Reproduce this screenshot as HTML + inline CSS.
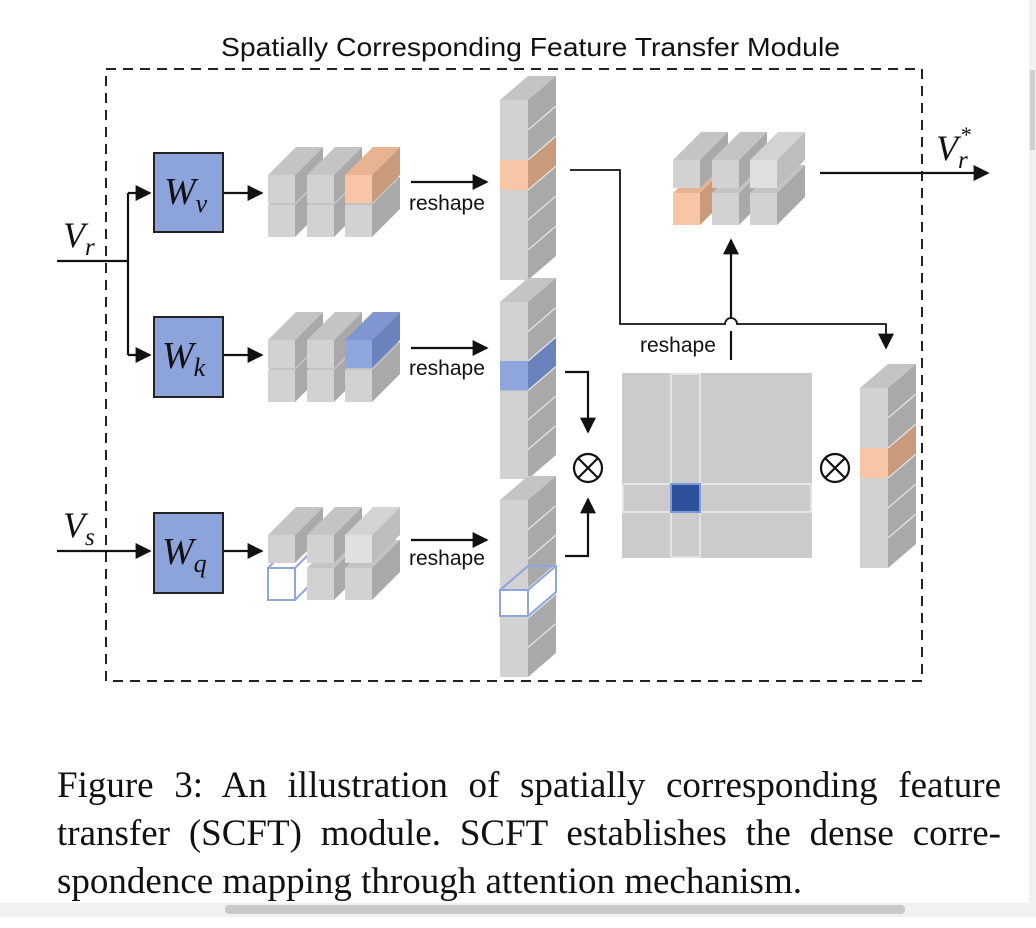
<!DOCTYPE html>
<html><head><meta charset="utf-8"><style>
html,body{margin:0;padding:0;background:#fff;width:1036px;height:928px;overflow:hidden}
svg{position:absolute;left:0;top:0}
.cap{position:absolute;left:57px;width:944px;font-family:"Liberation Serif",serif;font-size:37px;line-height:48px;color:#111;white-space:nowrap;text-align:justify;text-align-last:justify}
</style></head><body>
<svg id="s" width="1036" height="928" xmlns="http://www.w3.org/2000/svg">
<defs>
<marker id="b" viewBox="0 0 10 10" markerWidth="18" markerHeight="16" refX="9" refY="5" orient="auto" markerUnits="userSpaceOnUse"><path d="M0,0 L10,5 L0,10z" fill="#111"/></marker></defs>
<text x="221" y="56" textLength="619" lengthAdjust="spacingAndGlyphs" font-family="Liberation Sans,sans-serif" font-size="26" fill="#111">Spatially Corresponding Feature Transfer Module</text>
<rect x="106" y="69" width="816" height="612" fill="none" stroke="#222" stroke-width="2" stroke-dasharray="10,7"/>
<g id="g"></g>
<g fill="none" stroke="#111" stroke-width="2.2">
<path d="M57,261 H128 M128,193 V355"/>
<path d="M128,193 H150" marker-end="url(#b)"/><path d="M128,355 H150" marker-end="url(#b)"/>
<path d="M57,551 H150" marker-end="url(#b)"/>
<path d="M224,193 H262" marker-end="url(#b)"/><path d="M224,355 H262" marker-end="url(#b)"/><path d="M224,551 H262" marker-end="url(#b)"/>
<path d="M411,182 H487" marker-end="url(#b)"/><path d="M411,348 H487" marker-end="url(#b)"/><path d="M411,540 H487" marker-end="url(#b)"/>
<path d="M570,170 H620 V324 H725 A6,6 0 0 1 737,324 H886 V348" stroke-width="1.8" marker-end="url(#b)"/>
<path d="M731,360 V331 M731,318 V240" marker-end="url(#b)"/>
<path d="M565,372 H588 V432" marker-end="url(#b)"/>
<path d="M565,556 H588 V499" marker-end="url(#b)"/>
<path d="M820,173 H988" marker-end="url(#b)"/>
<circle cx="588" cy="468" r="14"/><path d="M578,458 L598,478 M598,458 L578,478"/>
<circle cx="835" cy="468" r="14"/><path d="M825,458 L845,478 M845,458 L825,478"/>
</g>
<g font-family="Liberation Sans,sans-serif" font-size="21" fill="#111">
<text x="409" y="210">reshape</text><text x="409" y="375">reshape</text><text x="409" y="565">reshape</text><text x="640" y="352">reshape</text>
</g>
<g font-family="Liberation Serif,serif" font-style="italic" fill="#111">
<text x="63" y="247" font-size="36">V<tspan font-size="25" dy="8">r</tspan></text>
<text x="63" y="537" font-size="36">V<tspan font-size="25" dy="8">s</tspan></text>
<text x="936" y="160" font-size="36">V<tspan font-size="25" dy="8">r</tspan><tspan font-size="22" dy="-26" dx="-8">*</tspan></text>
<text x="164" y="204" font-size="38">W<tspan font-size="26" dy="8">v</tspan></text>
<text x="162" y="368" font-size="38">W<tspan font-size="26" dy="8">k</tspan></text>
<text x="162" y="564" font-size="38">W<tspan font-size="26" dy="8">q</tspan></text>
</g>
</svg>
<div class="cap" style="top:762px">Figure 3: An illustration of spatially corresponding feature</div>
<div class="cap" style="top:810px">transfer (SCFT) module. SCFT establishes the dense corre-</div>
<div class="cap" style="top:858px;text-align:left;text-align-last:left">spondence mapping through attention mechanism.</div>
<div style="position:absolute;left:0;top:903px;width:1036px;height:14px;background:#f1f1f1"></div>
<div style="position:absolute;left:225px;top:905px;width:680px;height:9px;background:#c9c9c9;border-radius:4px"></div>
<div style="position:absolute;left:1029px;top:0;width:7px;height:903px;background:#f1f1f1"></div>
<div style="position:absolute;left:1030px;top:70px;width:5px;height:80px;background:#d0d0d0"></div>
<script>
var g=document.getElementById('g'),h='';
var C={g:['#d2d2d2','#c4c4c4','#a9a9a9'],l:['#e0e0e0','#d3d3d3','#bdbdbd'],o:['#f6c6a6','#e7b391','#c99a7c'],b:['#8fa6dd','#7f96d0','#6c82bc']};
function bar(x,y,w,hh,dx,dy,c,sk,notop){var f=C[c];
 if(sk){h+='<rect x="'+x+'" y="'+y+'" width="'+w+'" height="'+hh+'" fill="#fff"/><polygon points="'+(x+w)+','+y+' '+(x+w+dx)+','+(y-dy)+' '+(x+w+dx)+','+(y+hh-dy)+' '+(x+w)+','+(y+hh)+'" fill="#fff"/><g fill="none" stroke="#8fa5dd" stroke-width="2"><rect x="'+x+'" y="'+y+'" width="'+w+'" height="'+hh+'"/><path d="M'+x+','+y+' L'+(x+dx)+','+(y-dy)+' L'+(x+w+dx)+','+(y-dy)+' L'+(x+w+dx)+','+(y+hh-dy)+' L'+(x+w)+','+(y+hh)+' M'+(x+w)+','+y+' L'+(x+w+dx)+','+(y-dy)+'"/></g>';return;}
 h+='<rect x="'+x+'" y="'+y+'" width="'+w+'" height="'+hh+'" fill="'+f[0]+'"/>';
 if(!notop)h+='<polygon points="'+x+','+y+' '+(x+dx)+','+(y-dy)+' '+(x+w+dx)+','+(y-dy)+' '+(x+w)+','+y+'" fill="'+f[1]+'"/>';
 h+='<polygon points="'+(x+w)+','+y+' '+(x+w+dx)+','+(y-dy)+' '+(x+w+dx)+','+(y+hh-dy)+' '+(x+w)+','+(y+hh)+'" fill="'+f[2]+'"/>';}
function grp(x0,yt,yb,cs,sp){var xs=[x0,x0+39,x0+77];
 for(var i=0;i<3;i++)bar(xs[i],yb,27,32,28,28,cs[3+i],sp&&sp[i]);
 for(var i=0;i<3;i++)bar(xs[i],yt,27,28,28,28,cs[i]);}
grp(268,175,205,['g','g','o','g','g','g']);
grp(268,340,370,['g','g','b','g','g','g']);
grp(268,535,568,['g','g','l','g','g','g'],[1,0,0]);
grp(673,160,193,['g','g','l','o','g','g']);
function col(x,y0,n,seg,sp,c){for(var i=0;i<n;i++){var cc=(sp==i)?c:'g';bar(x,y0+i*seg,28,seg,28,24,cc,0,i>0);}
 for(var i=1;i<n;i++){h+='<line x1="'+(x+28)+'" y1="'+(y0+i*seg)+'" x2="'+(x+56)+'" y2="'+(y0+i*seg-24)+'" stroke="#e6e6e6" stroke-width="1.2"/>';}}
col(500,100,6,30,2,'o');
col(500,302,6,29.5,2,'b');
col(500,500,6,29.5,-1,'g');
bar(500,590,28,26,28,24,'g',1);
col(860,388,6,30,2,'o');
h+='<rect x="622" y="373" width="190" height="185" fill="#cbcbcb"/><rect x="671" y="374" width="29" height="183" fill="none" stroke="#e3e3e3" stroke-width="2"/><rect x="623" y="484" width="188" height="28" fill="none" stroke="#e3e3e3" stroke-width="2"/><rect x="671" y="484" width="29" height="28" fill="#2d519b" stroke="#7d9bd8" stroke-width="2"/>';
h+='<rect x="154" y="153" width="69" height="79" fill="#8da3db" stroke="#222" stroke-width="2"/><rect x="154" y="317" width="69" height="80" fill="#8da3db" stroke="#222" stroke-width="2"/><rect x="154" y="513" width="69" height="80" fill="#8da3db" stroke="#222" stroke-width="2"/>';
g.innerHTML=h;
</script>
</body></html>
